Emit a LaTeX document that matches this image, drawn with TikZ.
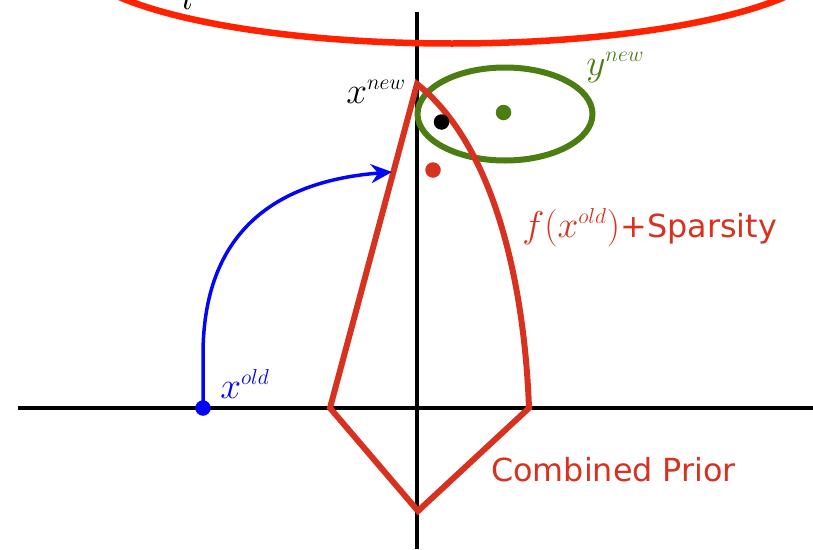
\documentclass[tikz,border=0pt]{standalone}
\usepackage{fontspec}
\newfontfamily\dvs{DejaVu Sans}
\usetikzlibrary{arrows.meta}
\definecolor{cred}{RGB}{215,50,32}
\definecolor{bred}{RGB}{255,34,0}
\definecolor{cgreen}{RGB}{75,125,18}
\definecolor{cblue}{RGB}{5,5,245}
\newcommand{\supx}[1]{\mbox{\fontsize{14.4}{17}\selectfont$#1$}}
\tikzset{
  axis/.style={line width=3.5pt,black},
  prior/.style={line width=6pt,cred,line join=miter,miter limit=10},
  dotmark/.style={circle,inner sep=0pt,minimum size=15.5pt},
  mathlbl/.style={inner sep=0pt,anchor=base west,scale=1.5,font=\fontsize{24.88}{30}\selectfont},
  txtlbl/.style={inner sep=0pt,anchor=base west,font=\fontsize{31.8}{38}\selectfont\dvs},
}
\begin{document}
\begin{tikzpicture}[x=1pt,y=-1pt]
\useasboundingbox (0,0) rectangle (813,549);
% axes
\coordinate (hl) at (18,408);
\coordinate (hr) at (813,408);
\coordinate (vt) at (417,12);
\coordinate (vb) at (417,549);
\draw[axis] (hl) -- (hr);
\draw[axis] (vt) -- (vb);
% big red ellipse
\draw[line width=6.5pt,bred] (452,-46.5) ellipse [x radius=380, y radius=90];
\node[mathlbl] (cut) at (182,9) {$l$};
% green ellipse
\draw[line width=6pt,cgreen] (505,114) ellipse [x radius=87.5, y radius=46.5];
% combined prior
\coordinate (apex) at (417,84);
\coordinate (pl) at (330,408);
\coordinate (pb) at (418,511);
\coordinate (pr) at (529,408);
\draw[prior] (apex) .. controls (500,150) and (525,300) .. (pr) -- (pb) -- (pl) -- cycle;
% blue arrow
\node[dotmark,fill=cblue] (xold) at (203,408) {};
\coordinate (tip) at (392,172);
\draw[line width=3.5pt,cblue,-{Stealth[length=21pt,width=19pt,inset=7pt]}] (xold.center) -- (203,355) .. controls (203,220) and (290,180) .. (tip);
% dots
\node[dotmark,fill=cgreen] (ynew) at (503.5,112.5) {};
\node[dotmark,fill=black] (xnew) at (441.5,122) {};
\node[dotmark,fill=cred] (rdot) at (433,170) {};
% labels
\node[mathlbl] (lxnew) at (346,103) {$x^{\supx{new}}$};
\node[mathlbl,text=cgreen] (lynew) at (586,75) {$y^{\supx{new}}$};
\node[mathlbl,text=cblue] (lxold) at (220,398) {$x^{\supx{old}}$};
\node[mathlbl,text=cred] (lf) at (522,237) {$f(x^{\supx{old}})$};
\node[txtlbl,text=cred] (lsp) at (lf.base east) {+Sparsity};
\node[txtlbl,text=cred] (lcp) at (491,481) {Combined Prior};
\end{tikzpicture}
\end{document}
